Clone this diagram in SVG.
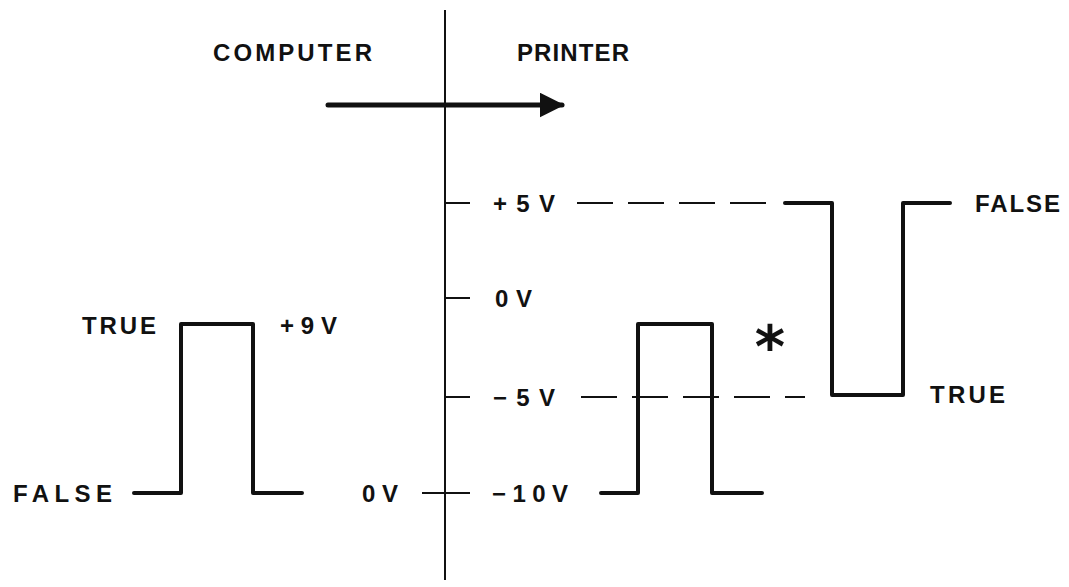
<svg xmlns="http://www.w3.org/2000/svg" width="1069" height="587" viewBox="0 0 1069 587">
<style>
.t{font-family:"Liberation Sans",Arial,sans-serif;font-size:24px;font-weight:bold;fill:#111;}
.axis{stroke:#111;stroke-width:2;fill:none;}
.sig{stroke:#111;stroke-width:4;fill:none;stroke-linejoin:round;stroke-linecap:round;}
.dash{stroke:#111;stroke-width:2;fill:none;stroke-dasharray:36,15;}
</style>
<defs>
<marker id="ah" viewBox="0 0 10 10" refX="9" refY="5" markerWidth="5" markerHeight="5" markerUnits="strokeWidth" orient="auto">
<path d="M0,0 L10,5 L0,10 z" fill="#111"/>
</marker>
</defs>
<rect width="1069" height="587" fill="#fff"/>
<g id="connectors">
<line class="axis" x1="445" y1="10" x2="445" y2="580"/>
<line x1="328" y1="105" x2="562" y2="105" stroke="#111" stroke-width="5" stroke-linecap="round" marker-end="url(#ah)"/>
<line class="axis" x1="445" y1="203" x2="470" y2="203"/>
<line class="axis" x1="445" y1="298" x2="470" y2="298"/>
<line class="axis" x1="445" y1="397" x2="470" y2="397"/>
<line class="axis" x1="422" y1="493" x2="470" y2="493"/>
<line class="dash" x1="577" y1="203" x2="770" y2="203"/>
<line class="dash" x1="581" y1="397" x2="805" y2="397"/>
</g>
<g id="computer-signal">
<path class="sig" d="M134,493 H181 V324 H253 V493 H302"/>
</g>
<g id="printer-signal-low">
<path class="sig" d="M601,493 H638 V324 H712 V493 H762"/>
</g>
<g id="printer-signal-high">
<path class="sig" d="M785,203 H832 V395 H903 V203 H950"/>
</g>
<g id="labels">
<text class="t" x="213" y="61" textLength="159" lengthAdjust="spacing">COMPUTER</text>
<text class="t" x="517" y="61" textLength="112" lengthAdjust="spacing">PRINTER</text>
<text class="t" x="493" y="212" textLength="62" lengthAdjust="spacing">+5V</text>
<text class="t" x="495" y="307" textLength="37" lengthAdjust="spacing">0V</text>
<text class="t" x="493" y="406" textLength="62" lengthAdjust="spacing">−5V</text>
<text class="t" x="492" y="502" textLength="76" lengthAdjust="spacing">−10V</text>
<text class="t" x="362" y="502" textLength="36" lengthAdjust="spacing">0V</text>
<text class="t" x="13" y="502" textLength="99" lengthAdjust="spacing">FALSE</text>
<text class="t" x="82" y="334" textLength="74" lengthAdjust="spacing">TRUE</text>
<text class="t" x="280" y="334" textLength="57" lengthAdjust="spacing">+9V</text>
<text class="t" x="975" y="212" textLength="85" lengthAdjust="spacing">FALSE</text>
<text class="t" x="930" y="403" textLength="75" lengthAdjust="spacing">TRUE</text>
<text x="770" y="367" text-anchor="middle" style="font-family:'DejaVu Sans',sans-serif;font-weight:bold;font-size:58px;fill:#111">*</text>
</g>
</svg>
